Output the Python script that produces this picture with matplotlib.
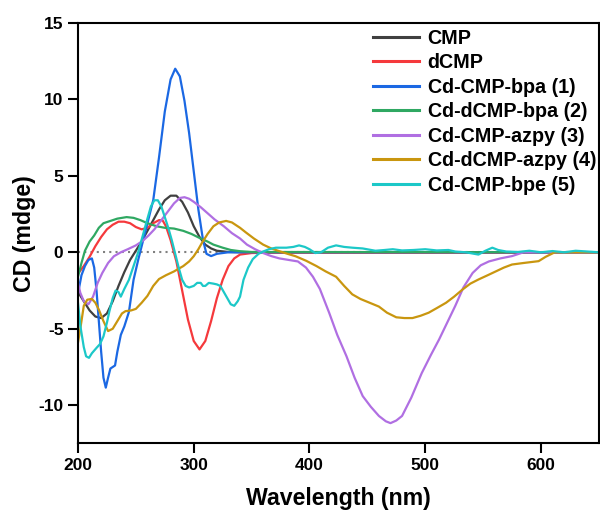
import matplotlib
matplotlib.use("Agg")
import matplotlib.pyplot as plt

plt.rcParams['font.family'] = ['Liberation Sans', 'DejaVu Sans']
plt.rcParams['font.weight'] = 'bold'
plt.rcParams['axes.unicode_minus'] = False

# CMP
cmp_x = [200, 205, 210, 215, 220, 225, 230, 235, 240, 245, 250, 255, 260, 265, 270, 275, 280, 285,
         290, 295, 300, 305, 310, 315, 320, 330, 340, 650]
cmp_y = [-2.6, -3.2, -3.8, -4.2, -4.3, -4.0, -3.2, -2.2, -1.3, -0.5, 0.1, 0.7, 1.4, 2.1, 2.8, 3.4, 3.7, 3.7,
         3.3, 2.6, 1.7, 1.0, 0.5, 0.25, 0.1, 0.02, 0.0, 0.0]

# dCMP
dcmp_x = [200, 205, 210, 215, 220, 225, 230, 235, 240, 245, 250, 255, 260, 265, 270, 273, 276, 280,
          285, 290, 295, 300, 305, 310, 315, 320, 325, 330, 335, 340, 350, 360, 650]
dcmp_y = [-1.4, -0.9, -0.3, 0.4, 1.0, 1.5, 1.8, 2.0, 2.0, 1.9, 1.65, 1.5, 1.6, 1.9, 2.1, 2.1, 1.7, 0.8,
          -0.6, -2.5, -4.4, -5.8, -6.35, -5.8, -4.5, -3.0, -1.8, -0.9, -0.4, -0.15, -0.05, -0.03, -0.03]

# Cd-CMP-bpa (1)
bpa1_x = [200, 203, 206, 209, 212, 214, 216, 218, 220, 222, 224, 226, 228, 230, 232, 234, 237, 240,
          244, 248, 252, 256, 260, 265, 270, 275, 280, 284, 288, 292, 296, 300, 304, 308, 311, 315,
          320, 330, 650]
bpa1_y = [-2.7, -1.5, -0.9, -0.5, -0.4, -1.0, -2.5, -4.5, -6.5, -8.2, -8.85, -8.2, -7.6, -7.5, -7.4,
          -6.5, -5.4, -4.85, -3.9, -1.8, -0.5, 0.7, 1.9, 3.4, 6.2, 9.2, 11.3, 12.0, 11.5, 9.9, 7.8,
          5.3, 2.8, 0.8, -0.1, -0.25, -0.1, 0.0, 0.0]

# Cd-dCMP-bpa (2)
bpa2_x = [200, 203, 206, 210, 214, 218, 222, 228, 234, 242, 248, 254, 260, 268, 275, 283, 291, 298,
          306, 312, 317, 325, 332, 340, 350, 650]
bpa2_y = [-1.6, -0.7, 0.1, 0.7, 1.1, 1.6, 1.9, 2.05, 2.2, 2.3, 2.25, 2.1, 1.9, 1.7, 1.6, 1.55, 1.4,
          1.2, 0.9, 0.7, 0.5, 0.3, 0.15, 0.07, 0.02, 0.0]

# Cd-CMP-azpy (3)
azpy3_x = [200, 202, 205, 209, 213, 217, 221, 226, 231, 237, 243, 250, 256, 261, 266, 272, 277, 283,
           288, 292, 296, 300, 306, 312, 318, 326, 333, 340, 346, 353, 360, 367, 374, 382, 390, 397,
           403, 409, 417, 424, 432, 439, 446, 453, 460, 466, 470, 475, 480, 488, 497, 505, 512, 519,
           526, 533, 541, 548, 555, 565, 575, 585, 650]
azpy3_y = [-2.0, -2.65, -3.2, -3.4, -2.9, -2.0, -1.35, -0.7, -0.26, 0.0, 0.2, 0.45, 0.75, 1.1, 1.5,
           2.1, 2.6, 3.2, 3.55, 3.6, 3.5, 3.3, 2.95, 2.55, 2.15, 1.7, 1.25, 0.9, 0.5, 0.2, -0.05,
           -0.25, -0.4, -0.5, -0.6, -1.0, -1.6, -2.4, -3.95, -5.4, -6.8, -8.2, -9.4, -10.1, -10.7,
           -11.05, -11.17, -11.0, -10.7, -9.5, -7.9, -6.7, -5.7, -4.6, -3.5, -2.3, -1.35, -0.85,
           -0.6, -0.4, -0.25, 0.0, 0.0]

# Cd-dCMP-azpy (4)
azpy4_x = [200, 202, 205, 208, 212, 215, 218, 222, 226, 230, 234, 238, 241, 246, 250, 255, 260, 265,
           270, 276, 283, 291, 296, 300, 304, 307, 312, 317, 322, 328, 333, 340, 345, 352, 360, 367,
           374, 381, 388, 397, 406, 414, 423, 430, 437, 444, 452, 460, 467, 475, 482, 489, 496, 503,
           510, 518, 525, 532, 539, 546, 554, 561, 568, 575, 585, 598, 604, 612, 650]
azpy4_y = [-5.9, -5.0, -3.5, -3.1, -3.05, -3.3, -3.75, -4.5, -5.15, -5.0, -4.5, -4.0, -3.85, -3.8,
           -3.7, -3.3, -2.85, -2.2, -1.75, -1.5, -1.25, -0.9, -0.6, -0.26, 0.2, 0.6, 1.2, 1.7, 1.95,
           2.05, 1.95, 1.6, 1.3, 0.9, 0.5, 0.25, 0.07, -0.1, -0.26, -0.55, -0.9, -1.25, -1.6, -2.2,
           -2.75, -3.05, -3.3, -3.55, -3.95, -4.25, -4.3, -4.3, -4.15, -3.95, -3.65, -3.3, -2.9,
           -2.45, -2.05, -1.78, -1.5, -1.25, -1.0, -0.8, -0.7, -0.58, -0.3, 0.0, 0.0]

# Cd-CMP-bpe (5)
bpe5_x = [200, 202, 205, 207, 209.5, 212, 216, 219, 222, 225, 227, 230, 232.5, 235, 237, 240, 244,
          248, 252, 256, 260, 263, 266, 269, 272, 275, 278, 281, 284, 287, 290, 293, 296, 300, 303,
          306, 308, 310, 313, 317, 320, 323, 326, 329, 332, 335, 338, 340, 343, 347, 351, 356, 360,
          365, 371, 380, 386, 391, 396, 400, 405, 410, 416, 423, 430, 437, 446, 457, 465, 472, 480,
          490, 500, 510, 520, 526, 535, 546, 552, 558, 563, 570, 580, 590, 600, 610, 620, 630, 640,
          650]
bpe5_y = [-3.3, -4.8, -6.2, -6.8, -6.9, -6.6, -6.25, -6.0, -5.5, -4.6, -3.9, -3.0, -2.5, -2.6, -2.9,
          -2.4, -1.8, -0.9, 0.0, 1.1, 2.2, 3.0, 3.4, 3.4, 3.0, 2.3, 1.6, 0.8, -0.1, -1.0, -1.8, -2.2,
          -2.3, -2.2, -2.0, -2.0, -2.2, -2.2, -2.0, -2.05, -2.1, -2.2, -2.6, -3.0, -3.4, -3.5, -3.2,
          -2.9, -1.8, -1.0, -0.45, -0.1, 0.05, 0.2, 0.3, 0.3, 0.35, 0.45, 0.35, 0.2, -0.05, 0.0, 0.3,
          0.45, 0.35, 0.3, 0.25, 0.1, 0.15, 0.2, 0.12, 0.15, 0.2, 0.12, 0.15, 0.05, 0.0, -0.15, 0.1,
          0.3, 0.15, 0.05, 0.02, 0.1, 0.0, 0.08, 0.0, 0.1, 0.05, 0.0]

series = [
    (cmp_x, cmp_y, 'CMP', '#404040'),
    (dcmp_x, dcmp_y, 'dCMP', '#f5393c'),
    (bpa1_x, bpa1_y, 'Cd-CMP-bpa (1)', '#1b68e3'),
    (bpa2_x, bpa2_y, 'Cd-dCMP-bpa (2)', '#2fa862'),
    (azpy3_x, azpy3_y, 'Cd-CMP-azpy (3)', '#b06fe2'),
    (azpy4_x, azpy4_y, 'Cd-dCMP-azpy (4)', '#c9960f'),
    (bpe5_x, bpe5_y, 'Cd-CMP-bpe (5)', '#1cc8c8'),
]

fig = plt.figure(figsize=(6, 5.13), dpi=100)
ax = fig.add_axes([0.13, 0.1355, 0.868, 0.82])

# dotted zero line
ax.axhline(0, color='#808080', linestyle=(0, (1, 2)), linewidth=1.5, zorder=1)
for x, y, label, color in series:
    ax.plot(x, y, color=color, linewidth=1.6, label=label, zorder=2)

ax.set_xlim(200, 650)
ax.set_ylim(-12.5, 15)
ax.set_xticks([200, 300, 400, 500, 600])
ax.set_yticks([-10, -5, 0, 5, 10, 15])
ax.tick_params(direction='out', length=7, width=1.5, labelsize=12.5, pad=3.5)
for s in ax.spines.values():
    s.set_linewidth(1.5)

ax.set_xlabel('Wavelength (nm)', fontsize=16.7, fontweight='bold', labelpad=10)
ax.set_ylabel('CD (mdge)', fontsize=16.7, fontweight='bold', labelpad=2)

leg = ax.legend(loc='upper right', frameon=False, fontsize=14.2, handlelength=2.3,
                labelspacing=0.28, handletextpad=0.45, borderaxespad=0.0,
                bbox_to_anchor=(1.01, 1.005))
for line in leg.get_lines():
    line.set_linewidth(2.2)

fig.savefig('out.png', dpi=100)
